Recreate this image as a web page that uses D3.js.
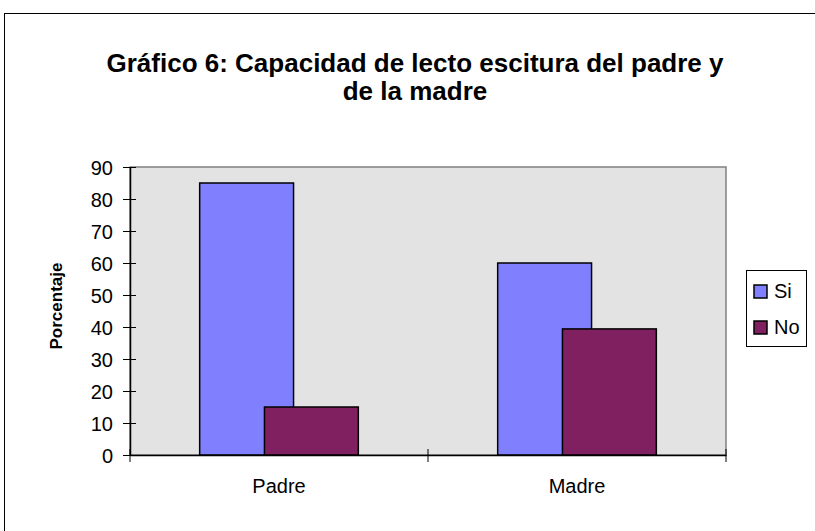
<!DOCTYPE html>
<html>
<head>
<meta charset="utf-8">
<script src="https://cdn.jsdelivr.net/npm/d3@7"></script>
<style>
  body { margin: 0; background: #fff; }
  svg { display: block; font-family: "Liberation Sans", Arial, sans-serif; }
</style>
</head>
<body>
<div class="chart"></div>
<script>
// --- Data ---
const categories = ["Padre", "Madre"];
const seriesNames = ["Si", "No"];
const siValues = [85, 60];
const noValues = [15, 39.4];
const yTicks = [0, 10, 20, 30, 40, 50, 60, 70, 80, 90];

const colors = { Si: "#8080FF", No: "#802060" };

const viewW = 815, viewH = 531;
const plot = { left: 130, right: 726, top: 167, bottom: 455 };

const svg = d3.select(".chart")
    .append("svg")
    .attr("width", viewW)
    .attr("height", viewH);

// outer chart border (only top/left visible in the crop)
svg.append("rect")
    .attr("x", 4.5).attr("y", 13.5)
    .attr("width", viewW + 20).attr("height", viewH + 20)
    .attr("fill", "#fff")
    .attr("stroke", "#000")
    .attr("stroke-width", 1);

// Scales
const x = d3.scaleBand()
    .domain(categories)
    .range([plot.left, plot.right]);

const y = d3.scaleLinear()
    .domain([0, 90])
    .range([plot.bottom, plot.top]);

// plot area background
svg.append("rect")
    .attr("x", plot.left).attr("y", plot.top)
    .attr("width", plot.right - plot.left)
    .attr("height", plot.bottom - plot.top)
    .attr("fill", "#E3E3E3")
    .attr("stroke", "#808080")
    .attr("stroke-width", 1.5);

// Bars: overlapping clustered columns
const barW = x.bandwidth() * 0.315;
const step = barW * 0.69;
const groupW = barW + step;

const rows = [];
categories.forEach((c, i) => {
    rows.push({ cat: c, s: "Si", v: siValues[i], k: 0 });
    rows.push({ cat: c, s: "No", v: noValues[i], k: 1 });
});

svg.selectAll("rect.bar")
    .data(rows)
    .enter()
    .append("rect")
    .attr("class", "bar")
    .attr("x", d => x(d.cat) + (x.bandwidth() - groupW) / 2 + d.k * step)
    .attr("y", d => y(d.v))
    .attr("width", barW)
    .attr("height", d => y(0) - y(d.v))
    .attr("fill", d => colors[d.s])
    .attr("stroke", "#000")
    .attr("stroke-width", 1.5);

// Axes
const yAxis = d3.axisLeft(y)
    .tickValues(yTicks)
    .tickSize(7)
    .tickSizeOuter(0);

const gy = svg.append("g")
    .attr("transform", `translate(${plot.left},0)`)
    .call(yAxis);
gy.select(".domain").attr("stroke", "#000").attr("stroke-width", 1.5);
gy.selectAll(".tick line").attr("x1", 6).attr("x2", -7).attr("stroke", "#000");
gy.selectAll(".tick text")
    .attr("x", -17)
    .attr("dy", "0.36em")
    .style("font-size", "20px")
    .style("fill", "#000");

const gx = svg.append("g")
    .attr("transform", `translate(0,${plot.bottom})`)
    .call(d3.axisBottom(x).tickSize(0).tickSizeOuter(0));
gx.select(".domain").attr("stroke", "#000").attr("stroke-width", 1.5);
gx.selectAll(".tick text")
    .attr("y", 38)
    .attr("dy", null)
    .style("font-size", "20px")
    .style("fill", "#000");

// category separators
const seps = [plot.left, x("Madre"), plot.right];
svg.selectAll("line.sep")
    .data(seps)
    .enter()
    .append("line")
    .attr("x1", d => d).attr("x2", d => d)
    .attr("y1", plot.bottom - 6).attr("y2", plot.bottom + 7)
    .attr("stroke", "#000");

// Y axis title
svg.append("text")
    .attr("transform", `translate(62,${306}) rotate(-90)`)
    .attr("text-anchor", "middle")
    .style("font-size", "17px")
    .style("font-weight", "bold")
    .text("Porcentaje");

// Title
const title = svg.append("text")
    .attr("text-anchor", "middle")
    .style("font-size", "26px")
    .style("font-weight", "bold");
title.append("tspan").attr("x", 415).attr("y", 72)
    .text("Gráfico 6: Capacidad de lecto escitura del padre y");
title.append("tspan").attr("x", 415).attr("y", 99.5)
    .text("de la madre");

// Legend
const legend = svg.append("g").attr("transform", "translate(746.5,270.5)");
legend.append("rect")
    .attr("width", 60).attr("height", 76)
    .attr("fill", "#fff")
    .attr("stroke", "#000");

const li = legend.selectAll("g.item")
    .data(seriesNames)
    .enter()
    .append("g")
    .attr("transform", (d, i) => `translate(7.5,${14.5 + i * 36})`);
li.append("rect")
    .attr("width", 13).attr("height", 13)
    .attr("fill", d => colors[d])
    .attr("stroke", "#000")
    .attr("stroke-width", 1.5);
li.append("text")
    .attr("x", 20).attr("y", 13)
    .style("font-size", "20px")
    .text(d => d);
</script>
</body>
</html>
